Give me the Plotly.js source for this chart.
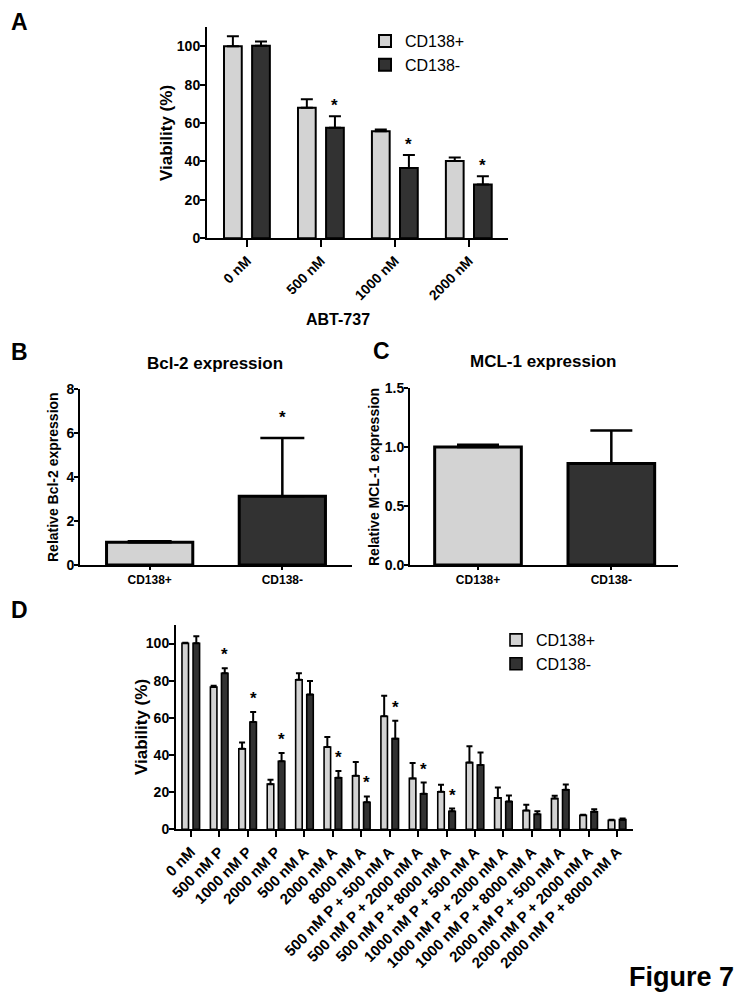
<!DOCTYPE html>
<html><head><meta charset="utf-8">
<script src="https://cdn.plot.ly/plotly-3.0.1.min.js"></script>
<style>html,body{margin:0;padding:0;background:#fff}#chart{width:756px;height:1001px}</style>
</head><body><div id="chart"></div>
<script>
// ---------- Panel A data ----------
const aCategories = ['0 nM', '500 nM', '1000 nM', '2000 nM'];
const aPos = [100.0, 68.0, 55.7, 40.2];
const aPosErr = [5.2, 4.4, 1.0, 1.8];
const aNeg = [100.2, 57.6, 36.6, 28.0];
const aNegErr = [2.3, 6.0, 6.8, 4.3];
const aSig = [false, true, true, true];

// ---------- Panel B data ----------
const bCategories = ['CD138+', 'CD138-'];
const bValues = [1.03, 3.12];
const bErr = [0.05, 2.65];
const bSig = [false, true];

// ---------- Panel C data ----------
const cCategories = ['CD138+', 'CD138-'];
const cValues = [1.0, 0.86];
const cErr = [0.02, 0.28];

// ---------- Panel D data ----------
const dCategories = ['0 nM', '500 nM P', '1000 nM P', '2000 nM P', '500 nM A', '2000 nM A', '8000 nM A',
  '500 nM P + 500 nM A', '500 nM P + 2000 nM A', '500 nM P + 8000 nM A',
  '1000 nM P + 500 nM A', '1000 nM P + 2000 nM A', '1000 nM P + 8000 nM A',
  '2000 nM P + 500 nM A', '2000 nM P + 2000 nM A', '2000 nM P + 8000 nM A'];
const dPos = [100.2, 76.6, 43.4, 24.3, 80.5, 44.3, 28.8, 60.9, 27.4, 20.2, 35.9, 16.9, 10.1, 16.6, 7.6, 4.9];
const dPosErr = [0.3, 0.7, 3.3, 2.4, 3.5, 5.4, 7.4, 11.0, 8.3, 3.8, 8.8, 5.6, 3.1, 1.4, 0.3, 0.3];
const dNeg = [100.2, 84.0, 57.8, 36.6, 72.6, 27.7, 14.6, 48.8, 19.1, 9.7, 34.6, 15.0, 8.1, 21.3, 9.4, 5.2];
const dNegErr = [3.8, 2.7, 5.3, 4.5, 7.2, 3.7, 3.1, 9.6, 6.1, 1.5, 6.7, 3.2, 1.6, 2.8, 1.4, 0.6];
const dSig = [false, true, true, true, false, true, true, true, true, true, false, false, false, false, false, false];

const seriesNames = ['CD138+', 'CD138-'];

// ---------- styling ----------
const FONT = 'Liberation Sans, Arial, sans-serif';
const LIGHT = '#d3d3d3';
const DARK = '#323232';
const W = 756, H = 1001;
const px = v => v / W;            // horizontal pixel -> paper
const py = v => (H - v) / H;      // vertical pixel -> paper

function bar(x, y, err, color, name, xa, ya, offset, width, lw, capw, legend, showlegend) {
  return {
    type: 'bar', x: x, y: y, name: name, xaxis: xa, yaxis: ya,
    offset: offset, width: width,
    marker: {color: color, line: {color: '#000', width: lw}},
    error_y: {type: 'data', symmetric: false, array: err, arrayminus: err.map(() => 0),
      color: '#000', thickness: 2, width: capw},
    legend: legend, showlegend: showlegend, hoverinfo: 'skip'
  };
}

const OFF_L = -0.31, OFF_D = 0.07, BW = 0.24;
const traces = [
  bar(aCategories, aPos, aPosErr, LIGHT, seriesNames[0], 'x', 'y', OFF_L, BW, 2, 6, 'legend', true),
  bar(aCategories, aNeg, aNegErr, DARK, seriesNames[1], 'x', 'y', OFF_D, BW, 2, 6, 'legend', true),
  {type: 'bar', x: bCategories, y: bValues, xaxis: 'x2', yaxis: 'y2', offset: -0.325, width: 0.65,
    marker: {color: [LIGHT, DARK], line: {color: '#000', width: 3}},
    error_y: {type: 'data', symmetric: false, array: bErr, arrayminus: bErr.map(() => 0), color: '#000', thickness: 2.5, width: 22},
    showlegend: false, hoverinfo: 'skip'},
  {type: 'bar', x: cCategories, y: cValues, xaxis: 'x3', yaxis: 'y3', offset: -0.325, width: 0.65,
    marker: {color: [LIGHT, DARK], line: {color: '#000', width: 3}},
    error_y: {type: 'data', symmetric: false, array: cErr, arrayminus: cErr.map(() => 0), color: '#000', thickness: 2.5, width: 21},
    showlegend: false, hoverinfo: 'skip'},
  bar(dCategories, dPos, dPosErr, LIGHT, seriesNames[0], 'x4', 'y4', OFF_L, 0.23, 1.6, 3, 'legend2', true),
  bar(dCategories, dNeg, dNegErr, DARK, seriesNames[1], 'x4', 'y4', OFF_D + 0.01, 0.23, 1.6, 3, 'legend2', true)
];

function axis(extra) {
  return Object.assign({
    showline: true, linecolor: '#000', linewidth: 2, mirror: false,
    ticks: 'outside', tickcolor: '#000', tickwidth: 2, ticklen: 6,
    showgrid: false, zeroline: false, fixedrange: true,
    tickfont: {family: FONT, size: 14, color: '#000', weight: 'bold'}
  }, extra);
}

// star annotations, placed above the CD138- error bar
function stars(sig, vals, errs, xref, yref, xoff, shift, size) {
  const out = [];
  sig.forEach((s, i) => {
    if (!s) return;
    out.push({xref: xref, yref: yref, x: i + xoff, y: vals[i] + errs[i], text: '*', showarrow: false,
      xanchor: 'center', yanchor: 'bottom', yshift: shift,
      font: {family: FONT, size: size, color: '#000', weight: 'bold'}});
  });
  return out;
}
function label(text, x, y, size, extra) {
  return Object.assign({xref: 'paper', yref: 'paper', x: px(x), y: py(y), text: text, showarrow: false,
    xanchor: 'left', yanchor: 'middle', font: {family: FONT, size: size, color: '#000', weight: 'bold'}}, extra || {});
}
const vtitle = (text, x, y, size) => label(text, x, y, size, {xanchor: 'center', textangle: -90});

const annotations = [].concat(
  stars(aSig, aNeg, aNegErr, 'x', 'y', OFF_D + BW / 2, -1, 17),
  stars(bSig, bValues, bErr, 'x2', 'y2', 0, 9, 17),
  stars(dSig, dNeg, dNegErr, 'x4', 'y4', OFF_D + 0.01 + 0.115, 2, 17),
  [
    label('A', 9, 22, 23),
    label('B', 9, 352, 23),
    label('C', 371, 351, 23),
    label('D', 9, 610, 23),
    label('Bcl-2 expression', 215, 363, 17, {xanchor: 'center'}),
    label('MCL-1 expression', 543, 362, 17, {xanchor: 'center'}),
    label('ABT-737', 338, 319, 16, {xanchor: 'center'}),
    vtitle('Viability (%)', 166, 133, 17),
    vtitle('Relative Bcl-2 expression', 53, 477, 14),
    vtitle('Relative MCL-1 expression', 374, 477, 14),
    vtitle('Viability (%)', 142, 727, 17),
    label('Figure 7', 736, 977, 27, {xanchor: 'right'})
  ]
);

const legendBase = {
  xanchor: 'left', yanchor: 'top', bgcolor: 'rgba(0,0,0,0)', borderwidth: 0,
  font: {family: FONT, size: 16, color: '#000'}, itemclick: false, itemdoubleclick: false,
  tracegroupgap: 0
};
const smallTick = {family: FONT, size: 12, color: '#000', weight: 'bold'};
const midTick = {family: FONT, size: 14, color: '#000', weight: 'bold'};

const layout = {
  width: W, height: H, margin: {l: 0, r: 0, t: 0, b: 0},
  paper_bgcolor: '#fff', plot_bgcolor: 'rgba(0,0,0,0)',
  barmode: 'overlay', showlegend: true,
  font: {family: FONT, color: '#000'},
  xaxis: axis({domain: [px(207), px(508)], anchor: 'y', type: 'category', range: [-0.54, 3.53],
    tickangle: -45, ticklen: 7}),
  yaxis: axis({domain: [py(238.3), py(27)], anchor: 'x', range: [0, 110], tick0: 0, dtick: 20,
    ticklen: 5, ticklabelstandoff: -3}),
  xaxis2: axis({domain: [px(80), px(352)], anchor: 'y2', type: 'category', range: [-0.525, 1.525],
    ticklen: 3, tickfont: smallTick}),
  yaxis2: axis({domain: [py(565), py(389)], anchor: 'x2', range: [0, 8], tick0: 0, dtick: 2, ticklen: 4,
    ticklabelstandoff: -3, tickfont: midTick}),
  xaxis3: axis({domain: [px(410), px(678)], anchor: 'y3', type: 'category', range: [-0.51, 1.5],
    ticklen: 3, tickfont: smallTick}),
  yaxis3: axis({domain: [py(565), py(388)], anchor: 'x3', range: [0, 1.5], tick0: 0, dtick: 0.5, tickformat: '.1f', ticklen: 4,
    ticklabelstandoff: -3, tickfont: midTick}),
  xaxis4: axis({domain: [px(176), px(633)], anchor: 'y4', type: 'category', range: [-0.52, 15.56],
    tickangle: -45, ticklen: 6, tickfont: {family: FONT, size: 15, color: '#000', weight: 'bold'}}),
  yaxis4: axis({domain: [py(829.3), py(625)], anchor: 'x4', range: [0, 110], tick0: 0, dtick: 20,
    ticklen: 5, ticklabelstandoff: -3}),
  legend: Object.assign({}, legendBase, {x: px(365), y: py(24)}),
  legend2: Object.assign({}, legendBase, {x: px(496), y: py(623)}),
  annotations: annotations
};

Plotly.newPlot('chart', traces, layout, {staticPlot: true, displayModeBar: false});
</script></body></html>
